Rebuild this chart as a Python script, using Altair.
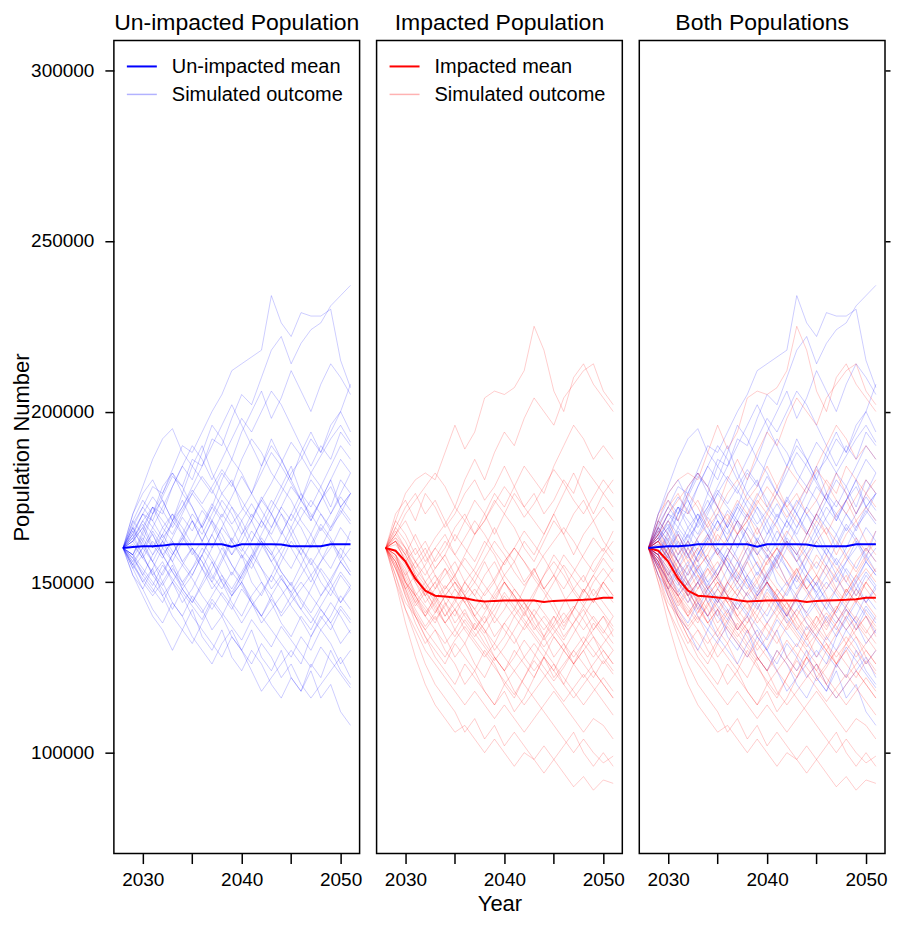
import altair as alt
import pandas as pd

YEARS = list(range(2028, 2052))

UNIMPACTED_MEAN = [160000, 160300, 160500, 160500, 160700, 161100, 161100, 161100,
                   161100, 161100, 161100, 160400, 161100, 161100, 161100, 161100,
                   161000, 160500, 160500, 160500, 160500, 161100, 161100, 161100]
IMPACTED_MEAN = [160000, 159200, 156000, 151000, 147500, 146000, 145800, 145500,
                 145300, 144700, 144300, 144500, 144600, 144600, 144600, 144600,
                 144200, 144500, 144600, 144700, 144800, 145000, 145400, 145400]

# simulated outcomes, thousands
UNIMPACTED_RUNS = [
    [160,166,172,178,176,183,190,188,194,200,205,212,214,216,218,234,226,222,229,228,228,230,215,207],
    [160,164,170,168,175,181,178,186,184,192,190,198,205,202,210,218,222,214,220,224,226,231,234,237],
    [160,170,178,186,192,195,188,184,190,182,176,180,172,168,175,170,164,170,176,168,174,180,172,176],
    [160,158,165,172,170,178,184,180,188,196,192,186,194,200,206,198,204,212,206,200,208,214,210,205],
    [160,155,150,146,150,144,140,146,142,136,140,134,130,136,128,124,130,122,118,124,116,120,112,108],
    [160,152,148,154,146,140,136,142,134,130,136,128,124,130,126,120,116,122,118,126,122,130,124,120],
    [160,163,158,165,160,168,164,170,166,160,166,172,168,162,168,174,170,164,158,164,170,166,172,168],
    [160,157,162,156,150,155,148,152,158,164,158,152,158,150,146,152,158,154,160,156,150,146,152,148],
    [160,166,162,170,174,168,176,172,166,172,180,186,182,176,184,190,186,180,188,194,188,196,200,194],
    [160,154,158,152,148,142,148,144,150,156,150,144,140,146,150,144,138,134,140,136,142,138,132,136],
    [160,162,168,164,158,162,156,160,154,148,152,146,150,156,162,158,164,170,166,160,166,162,156,160],
    [160,158,152,148,144,150,146,140,136,132,128,134,130,126,132,128,122,126,120,116,120,124,128,122],
    [160,168,174,170,178,182,176,184,180,176,182,178,186,192,188,182,178,184,176,172,178,184,190,186],
    [160,155,160,166,162,158,164,160,156,150,156,162,158,154,160,166,172,168,174,180,176,170,176,182],
    [160,164,158,152,156,150,144,148,154,150,146,142,148,144,138,142,146,150,144,140,136,140,146,142],
    [160,170,176,180,174,168,172,178,184,190,196,202,196,190,184,192,186,180,174,182,178,172,180,176],
    [160,152,146,140,136,130,136,132,138,144,140,146,150,144,140,136,132,128,134,130,136,132,126,130],
    [160,162,166,172,168,164,170,176,172,168,162,158,164,170,166,172,178,174,168,164,158,154,160,156],
    [160,156,150,154,160,156,162,168,164,170,176,172,166,160,154,150,156,162,158,152,146,150,144,148],
    [160,165,170,166,172,178,184,190,186,180,186,192,198,194,200,206,202,196,190,184,190,186,194,190],
    [160,154,148,142,138,144,140,134,130,126,132,136,130,124,118,122,126,130,126,134,140,136,142,138],
    [160,163,167,161,157,163,169,165,171,167,161,155,151,157,163,159,153,149,155,161,167,163,157,165],
    [160,158,164,160,166,162,156,152,158,164,170,166,160,156,150,146,140,144,148,152,156,160,166,162],
    [160,166,160,156,162,168,174,168,162,168,164,158,162,168,174,170,176,182,186,192,188,194,200,208],
    [160,157,153,149,155,151,147,143,139,145,141,137,133,139,135,131,137,133,129,125,131,127,123,119],
    [160,161,157,162,158,153,149,154,158,152,148,153,149,144,140,145,141,146,150,146,142,138,143,139],
    [160,163,168,172,166,170,164,158,162,168,174,170,164,168,162,156,160,166,172,168,174,178,172,176],
    [160,157,152,158,162,156,150,154,160,156,150,146,152,158,154,148,152,146,142,148,154,150,156,152],
    [160,165,161,156,152,158,163,168,162,157,152,148,153,158,164,170,165,160,155,150,156,162,158,153],
    [160,155,151,147,153,158,163,159,154,160,166,162,168,173,168,163,158,164,169,174,170,165,171,167],
    [160,168,164,170,176,182,178,172,166,172,168,162,157,162,168,164,170,166,160,155,160,166,170,176],
    [160,156,160,164,158,153,148,144,149,154,160,155,150,145,140,146,151,147,142,138,143,148,153,149],
    [160,162,166,160,164,170,166,161,167,173,169,175,181,176,171,166,172,178,174,169,174,180,186,182],
    [160,158,154,150,146,150,155,151,146,142,147,143,138,143,147,152,148,143,139,134,139,144,140,135],
    [160,164,170,175,171,166,171,176,181,177,172,167,171,176,182,188,184,179,174,170,165,170,175,171],
    [160,158,163,158,164,159,155,160,156,151,157,163,159,165,161,156,151,147,152,157,153,148,144,149],
    [160,162,157,153,149,154,150,145,141,146,151,147,152,157,162,158,153,149,145,141,146,151,156,152],
    [160,167,172,168,163,167,172,177,173,178,183,179,174,169,174,179,185,191,187,182,187,192,196,191],
]

IMPACTED_RUNS = [
    [160,168,176,180,182,180,188,196,189,194,204,206,205,207,212,225,218,206,200,210,214,208,204,200],
    [160,164,170,174,178,182,178,172,180,186,180,188,194,190,198,204,200,196,204,208,212,214,206,202],
    [160,150,138,128,120,114,110,106,108,104,100,104,100,96,100,98,94,98,94,90,93,89,92,91],
    [160,152,142,134,126,120,116,112,106,110,104,108,102,106,102,98,102,98,102,106,100,96,100,96],
    [160,155,146,140,134,128,124,120,126,122,118,114,118,112,116,122,128,134,130,126,132,138,134,130],
    [160,158,150,146,140,146,142,136,132,138,134,128,124,130,126,122,128,124,120,126,130,124,120,116],
    [160,163,158,152,148,152,146,150,146,140,144,138,142,148,144,140,136,140,134,138,142,136,140,134],
    [160,166,162,156,160,154,158,164,160,156,162,158,152,156,162,158,164,170,164,158,164,168,162,158],
    [160,156,150,144,148,142,138,142,146,140,136,130,134,140,144,138,134,128,132,126,130,134,128,124],
    [160,162,156,160,154,148,152,156,150,154,160,166,160,156,150,154,148,152,158,154,150,156,160,156],
    [160,170,174,168,176,172,166,170,176,180,174,178,184,178,172,176,170,174,180,176,184,180,176,180],
    [160,154,148,140,134,130,126,132,128,124,130,126,120,116,122,128,134,140,136,142,148,144,150,146],
    [160,158,152,156,150,146,140,144,150,146,152,156,150,146,140,146,152,158,154,148,152,146,150,146],
    [160,164,160,152,146,150,154,148,144,148,144,140,146,142,148,154,148,144,138,142,148,144,150,154],
    [160,152,144,140,136,140,134,128,132,126,122,128,124,118,114,118,122,126,120,116,120,124,120,116],
    [160,166,172,176,170,174,168,162,168,174,170,164,170,176,172,168,164,170,176,182,176,170,176,172],
    [160,156,148,152,146,150,144,138,142,136,140,134,138,134,128,124,128,122,126,130,134,130,126,130],
    [160,162,158,164,158,152,148,152,146,150,156,150,144,140,136,140,134,138,144,148,144,150,154,150],
    [160,150,142,136,130,126,122,118,114,118,114,110,114,110,106,110,114,118,114,110,106,110,108,104],
    [160,168,164,158,162,156,160,166,170,164,168,174,170,166,160,156,162,168,164,170,174,168,172,168],
    [160,158,154,146,142,138,144,140,146,142,138,144,150,146,142,136,140,136,132,128,132,136,140,136],
    [160,164,168,162,156,160,164,158,154,150,146,150,156,160,156,152,148,152,146,140,136,140,136,132],
    [160,154,146,138,132,136,130,126,120,124,118,114,120,124,128,132,128,124,130,126,122,126,130,126],
    [160,165,160,154,150,154,158,152,158,164,170,176,172,178,184,180,176,184,190,196,192,186,190,186],
    [160,158,150,144,140,144,138,142,136,132,128,132,138,142,138,134,130,126,122,118,114,118,122,118],
    [160,162,156,150,144,148,154,150,144,140,136,132,128,124,120,116,112,108,104,100,104,100,97,99],
    [160,156,150,146,150,145,140,145,150,146,142,147,152,148,144,140,145,150,155,151,147,152,157,153],
    [160,158,153,147,143,139,143,148,144,139,135,140,136,132,137,142,138,134,130,135,140,145,141,137],
    [160,162,158,153,149,144,148,152,157,153,149,145,150,146,142,147,152,156,152,147,143,148,144,140],
    [160,155,148,142,137,141,146,142,138,134,138,142,147,143,139,135,131,135,139,143,139,134,130,126],
    [160,161,157,151,155,160,156,151,147,152,157,162,158,153,149,153,158,162,166,162,157,153,158,162],
    [160,157,151,145,140,136,132,136,141,137,132,128,124,128,133,129,125,121,125,130,126,122,127,123],
    [160,163,160,156,152,157,162,158,163,168,164,159,155,160,165,161,157,152,148,153,158,163,159,165],
    [160,156,149,143,147,143,138,134,139,135,131,127,131,136,141,145,141,137,133,138,143,139,135,140],
    [160,159,155,150,146,141,146,150,146,142,147,151,156,160,156,151,147,142,137,142,147,152,148,144],
    [160,154,147,141,136,132,128,133,137,133,129,125,121,117,122,127,123,119,115,119,123,119,115,111],
    [160,162,159,154,158,163,167,172,168,164,168,173,178,174,169,173,178,183,179,174,170,175,180,176],
    [160,157,152,146,141,145,149,145,140,136,141,146,150,145,141,137,133,137,141,137,132,128,132,136],
]

X_TICKS = [2030, 2035, 2040, 2045, 2050]
Y_TICKS = [100000, 150000, 200000, 250000, 300000]

FONT = "Liberation Sans"
BLUE = "#0000FF"
RED = "#FF0000"
SIM_OPACITY = 0.2
W, H = 246, 814


def runs_df(runs, tag):
    rows = []
    for i, run in enumerate(runs):
        for yr, v in zip(YEARS, run):
            rows.append({"year": yr, "pop": v * 1000, "run": f"{tag}{i}"})
    return pd.DataFrame(rows)


un_runs = runs_df(UNIMPACTED_RUNS, "u")
im_runs = runs_df(IMPACTED_RUNS, "i")
un_mean = pd.DataFrame({"year": YEARS, "pop": UNIMPACTED_MEAN})
im_mean = pd.DataFrame({"year": YEARS, "pop": IMPACTED_MEAN})

x_scale = alt.Scale(domain=[2027.08, 2051.92], nice=False, zero=False)
y_scale = alt.Scale(domain=[70425, 308785], nice=False, zero=False)


def x_axis(title):
    kw = dict(values=X_TICKS,
              labelExpr="datum.value % 10 == 0 ? format(datum.value, 'd') : ''",
              tickSize=10, labelPadding=7, grid=False, domain=False,
              labelFontSize=19, labelFont=FONT, labelColor="black",
              labelFlush=False, labelOverlap=False)
    if title:
        return alt.Axis(title=title, titleFontSize=22, titleFont=FONT,
                        titleFontWeight="normal", titleColor="black",
                        titlePadding=4, **kw)
    return alt.Axis(title=None, **kw)


y_axis_left = alt.Axis(values=Y_TICKS, format="d", tickSize=9, labelPadding=11,
                       grid=False, domain=False, labelFontSize=19, labelFont=FONT,
                       labelColor="black", title="Population Number",
                       titleFontSize=22, titleFont=FONT, titleFontWeight="normal",
                       titleColor="black", titleX=-92, titleY=H / 2,
                       titleAngle=-90, titleBaseline="middle", titleAlign="center")
y_axis_right = alt.Axis(values=Y_TICKS, orient="right", labels=False, tickSize=5,
                        grid=False, domain=False, title=None)


def sim_layer(df, color, xa, ya):
    return alt.Chart(df).mark_line(strokeWidth=1, opacity=SIM_OPACITY, color=color).encode(
        x=alt.X("year:Q", scale=x_scale, axis=xa),
        y=alt.Y("pop:Q", scale=y_scale, axis=ya),
        detail="run:N",
    )


def mean_layer(df, color, xa, ya):
    return alt.Chart(df).mark_line(strokeWidth=2, color=color).encode(
        x=alt.X("year:Q", scale=x_scale, axis=xa),
        y=alt.Y("pop:Q", scale=y_scale, axis=ya),
    )


dummy = pd.DataFrame({"k": [0]})


def legend_layers(color, mean_label):
    base = alt.Chart(dummy)
    return [
        base.mark_rule(color=color, strokeWidth=2).encode(
            x=alt.value(13), x2=alt.value(43), y=alt.value(26)),
        base.mark_rule(color=color, strokeWidth=1.5, opacity=0.3).encode(
            x=alt.value(13), x2=alt.value(43), y=alt.value(54)),
        base.mark_text(align="left", baseline="middle", fontSize=20, font=FONT,
                       color="black").encode(
            x=alt.value(58), y=alt.value(27), text=alt.value(mean_label)),
        base.mark_text(align="left", baseline="middle", fontSize=20, font=FONT,
                       color="black").encode(
            x=alt.value(58), y=alt.value(55), text=alt.value("Simulated outcome")),
    ]


def ptitle(t):
    return alt.TitleParams(t, fontSize=23, fontWeight="normal", font=FONT,
                           color="black", offset=5)


xa1 = x_axis(None)
p1 = alt.layer(
    sim_layer(un_runs, BLUE, xa1, y_axis_left),
    mean_layer(un_mean, BLUE, xa1, y_axis_left),
    *legend_layers(BLUE, "Un-impacted mean"),
).properties(width=W, height=H, title=ptitle("Un-impacted Population"))

xa2 = x_axis("Year")
p2 = alt.layer(
    sim_layer(im_runs, RED, xa2, None),
    mean_layer(im_mean, RED, xa2, None),
    *legend_layers(RED, "Impacted mean"),
).properties(width=W, height=H, title=ptitle("Impacted Population"))

xa3 = x_axis(None)
p3 = alt.layer(
    sim_layer(un_runs, BLUE, xa3, y_axis_right),
    sim_layer(im_runs, RED, xa3, y_axis_right),
    mean_layer(im_mean, RED, xa3, y_axis_right),
    mean_layer(un_mean, BLUE, xa3, y_axis_right),
).properties(width=W, height=H, title=ptitle("Both Populations"))

chart = alt.hconcat(p1, p2, p3, spacing=13).properties(
    padding={"left": 2, "top": 3, "right": -1, "bottom": 3}
).configure_view(
    stroke="black", strokeWidth=1.5
).configure_axis(
    tickColor="black", tickWidth=1.5
)

chart.save("out.html", embed_options={"renderer": "svg", "actions": False})
